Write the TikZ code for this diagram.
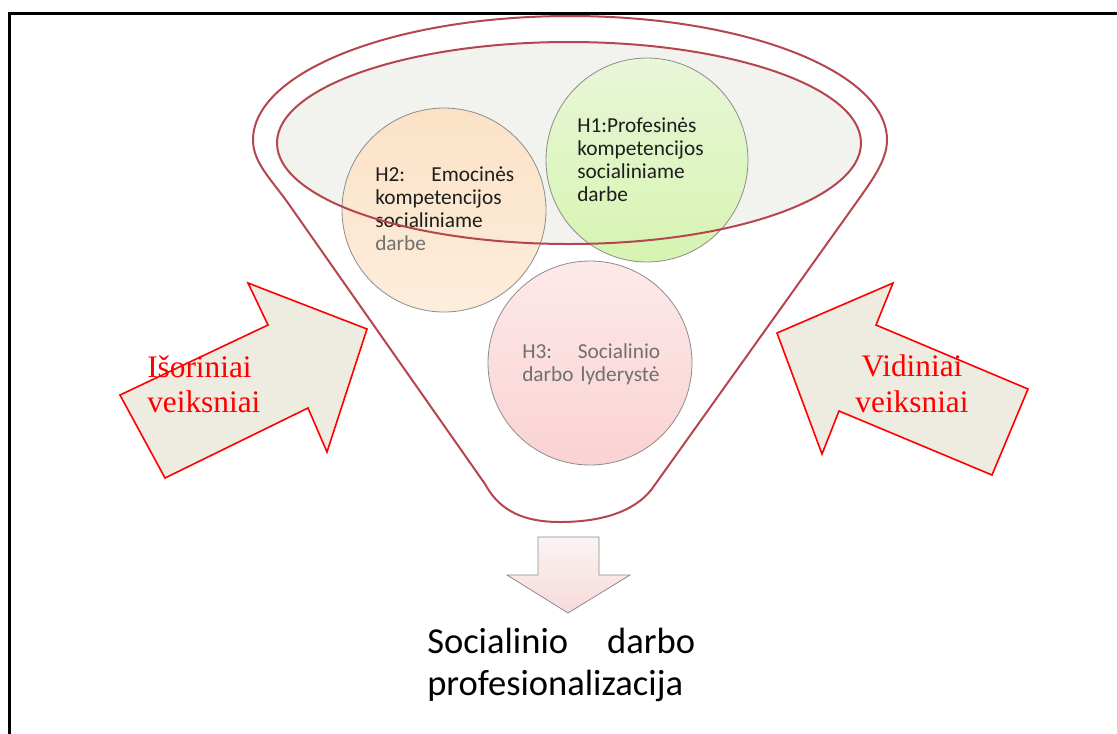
\documentclass[tikz,border=0pt]{standalone}
\usepackage{fontspec}
\setmainfont{Liberation Serif}
\newfontfamily\calibrifont{Carlito}
\definecolor{funnelred}{HTML}{B4464E}
\definecolor{innerfill}{HTML}{F2F2EF}
\definecolor{arrowfill}{HTML}{EEEBE0}
\definecolor{txtgray}{HTML}{707070}
\definecolor{txtdark}{HTML}{1E1E1E}
\definecolor{circline}{HTML}{8C8C8C}
\definecolor{htwotop}{HTML}{FBE2C6}
\definecolor{htwobot}{HTML}{FDEDDC}
\definecolor{honetop}{HTML}{E9F6D8}
\definecolor{honebot}{HTML}{D6F4B0}
\definecolor{hthreetop}{HTML}{FDE9E9}
\definecolor{hthreebot}{HTML}{FAD2D3}
\definecolor{downtop}{HTML}{FCF3F3}
\definecolor{downbot}{HTML}{F7DADA}
\begin{document}
\begin{tikzpicture}[x=0.75pt,y=-0.75pt,
  funnelline/.style={draw=funnelred, line width=1.5pt},
  hypcircle/.style={draw=circline, line width=0.6pt},
  hyptext/.style={font=\calibrifont\fontsize{16}{17.25}\selectfont, text width=104.25pt,
    align=left, inner sep=0pt, anchor=base west, text=txtdark},
  factorarrow/.style={fill=arrowfill, draw=red, line width=1.2pt, line join=miter},
  factortext/.style={text=red, font=\fontsize{23.5}{26.25}\selectfont, inner sep=0pt}
]
\useasboundingbox (0,0) rectangle (1117,733);
% frame
\draw[line width=2.2pt] (9.5,800) -- (9.5,13.5) -- (1200,13.5);
% funnel
\path[funnelline, fill=white] (253,140) .. controls (253,162) and (270,178) .. (288,203)
  -- (485,484) .. controls (497,506) and (517,522) .. (560,522)
  .. controls (610,522) and (640,507) .. (654,486)
  -- (851,210) .. controls (870,183) and (887,162) .. (887,140)
  arc[start angle=0, end angle=-180, x radius=317, y radius=124] -- cycle;
\fill[innerfill] (569,143) ellipse[x radius=292, y radius=101];
% circles
\path[hypcircle, top color=htwotop, bottom color=htwobot] (444,210) ellipse[x radius=102, y radius=102];
\path[hypcircle, top color=honetop, bottom color=honebot] (647,160) ellipse[x radius=101, y radius=102];
\path[hypcircle, top color=hthreetop, bottom color=hthreebot] (590,363) ellipse[x radius=102, y radius=102];
% texts
\node[hyptext] (h2t) at (375,181) {H2:\hfill Emocinės\\kompetencijos\\socialiniame\\\textcolor{txtgray}{darbe}};
\node[hyptext] (h1t) at (577,132) {H1:Profesinės\\kompetencijos\\socialiniame\\darbe};
\node[hyptext, text=txtgray, text width=103.5pt] (h3t) at (522,358) {H3:\hfill Socialinio\\darbo lyderystė};
% inner ellipse outline
\draw[funnelline] (569,143) ellipse[x radius=292, y radius=101];
% factor arrows
\path[factorarrow] (120,395) -- (268,325) -- (248,283) -- (367,329) -- (327,452) -- (308,408) -- (165,478) -- cycle;
\path[factorarrow] (777,333) -- (893,283) -- (876,325) -- (1028,389) -- (992,475) -- (839,411) -- (822,454) -- cycle;
\node[factortext, anchor=base west] (ext1) at (147,377) {Išoriniai};
\node[factortext, anchor=base west] (ext2) at (147,412) {veiksniai};
\node[factortext, anchor=base] (int1) at (912,376) {Vidiniai};
\node[factortext, anchor=base] (int2) at (912,412) {veiksniai};
% down arrow
\path[draw=circline, line width=0.6pt, top color=downtop, bottom color=downbot]
  (538,537) -- (599,537) -- (599,575) -- (630,575) -- (568,613) -- (507,575) -- (538,575) -- cycle;
% result
\node[font=\calibrifont\fontsize{27.4}{31.5}\selectfont, text width=201pt, align=left,
  anchor=base west, inner sep=0pt, text=black] (result) at (427,653) {Socialinio\hfill darbo\\profesionalizacija};
\end{tikzpicture}
\end{document}
